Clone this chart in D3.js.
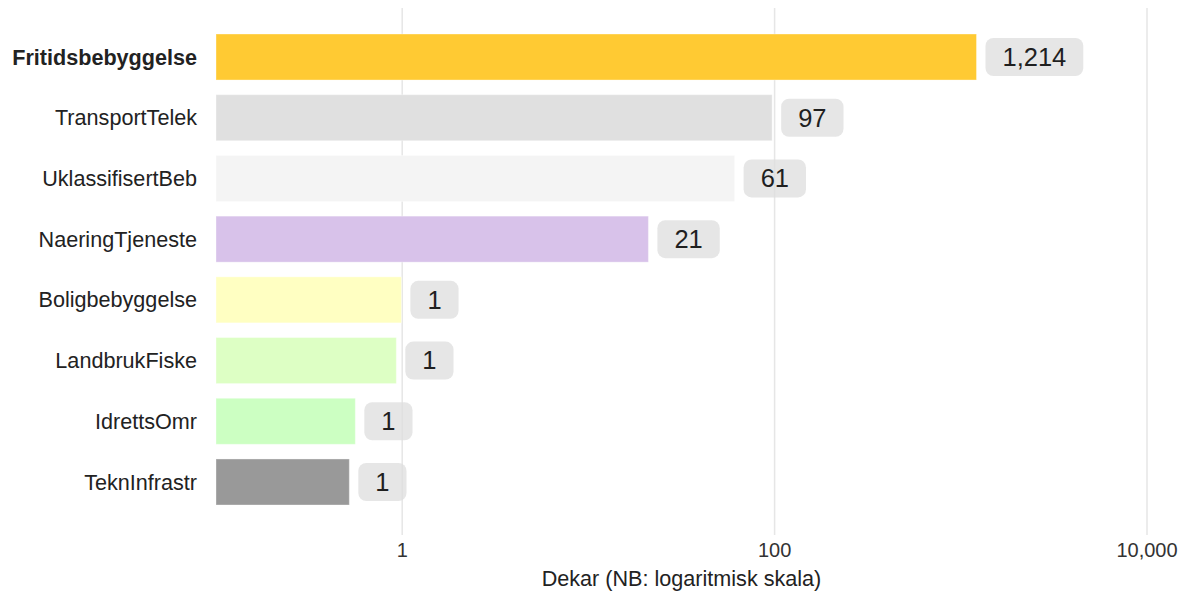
<!DOCTYPE html>
<html>
<head>
<meta charset="utf-8">
<script src="https://cdn.jsdelivr.net/npm/d3@7"></script>
<style>
  html, body { margin: 0; padding: 0; background: #fff; }
  svg { display: block; font-family: "Liberation Sans", Arial, sans-serif; }
</style>
</head>
<body>
<svg id="chart" width="1194" height="591"></svg>
<script>
const categories = ["Fritidsbebyggelse", "TransportTelek", "UklassifisertBeb", "NaeringTjeneste",
                    "Boligbebyggelse", "LandbrukFiske", "IdrettsOmr", "TeknInfrastr"];
const values = [1214, 97, 61, 21, 0.99, 0.93, 0.56, 0.52];
const colors = ["#ffca33", "#e0e0e0", "#f4f4f4", "#d8c2ea", "#ffffc2", "#ddffc4", "#ccffc2", "#999999"];
const tickValues = [1, 100, 10000];
const axisTitle = "Dekar (NB: logaritmisk skala)";

const W = 1194, H = 591;
const margin = { left: 216, right: 47 };
const svg = d3.select("#chart");

const x = d3.scaleLog().domain([0.1, 10000]).range([margin.left, W - margin.right]);
const y = d3.scaleBand().domain(categories).range([34, 505]).paddingInner(0.242).paddingOuter(0);

const fmt = d3.format(",.0f");

// grid lines
svg.append("g").selectAll("line").data(tickValues).join("line")
  .attr("x1", d => x(d)).attr("x2", d => x(d))
  .attr("y1", 8).attr("y2", 535)
  .attr("stroke", "#e6e6e6").attr("stroke-width", 1.5);

// bars
svg.append("g").selectAll("rect").data(categories).join("rect")
  .attr("x", x(0.1))
  .attr("y", d => y(d))
  .attr("width", (d, i) => x(values[i]) - x(0.1))
  .attr("height", y.bandwidth())
  .attr("fill", (d, i) => colors[i])
  .attr("stroke", "rgba(255,255,255,0.35)")
  .attr("stroke-width", 1);

// category labels
svg.append("g").selectAll("text").data(categories).join("text")
  .attr("x", margin.left - 19)
  .attr("y", d => y(d) + y.bandwidth() / 2)
  .attr("dy", "0.35em")
  .attr("text-anchor", "end")
  .attr("font-size", 21.6)
  .attr("font-weight", (d, i) => i === 0 ? "bold" : "normal")
  .attr("fill", "#222")
  .text(d => d);

// value labels
const lab = svg.append("g").selectAll("g").data(categories).join("g");
lab.each(function (d, i) {
  const g = d3.select(this);
  const cy = y(d) + y.bandwidth() / 2;
  const x0 = x(values[i]) + 9;
  const t = g.append("text")
    .attr("font-size", 25.5)
    .attr("fill", "#1f1f1f")
    .attr("dy", "0.35em")
    .attr("y", cy)
    .text(fmt(values[i]));
  const tw = t.node().getComputedTextLength();
  const pad = 17;
  g.insert("rect", "text")
    .attr("x", x0).attr("y", cy - 19)
    .attr("width", tw + 2 * pad).attr("height", 38)
    .attr("rx", 8).attr("ry", 8)
    .attr("fill", "#dedede").attr("fill-opacity", 0.75);
  t.attr("x", x0 + pad);
});

// axis tick labels
svg.append("g").selectAll("text").data(tickValues).join("text")
  .attr("x", d => x(d))
  .attr("y", 550)
  .attr("dy", "0.35em")
  .attr("text-anchor", "middle")
  .attr("font-size", 20)
  .attr("fill", "#333")
  .text(d => d3.format(",")(d));

// axis title
svg.append("text")
  .attr("x", (x.range()[0] + x.range()[1]) / 2)
  .attr("y", 578)
  .attr("dy", "0.35em")
  .attr("text-anchor", "middle")
  .attr("font-size", 21.6)
  .attr("fill", "#222")
  .text(axisTitle);
</script>
</body>
</html>
